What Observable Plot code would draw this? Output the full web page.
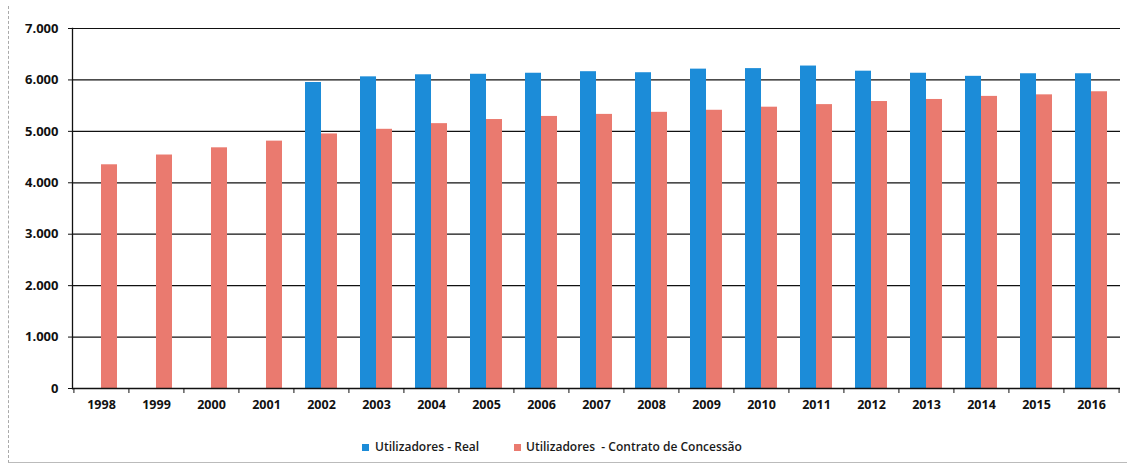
<!DOCTYPE html>
<html>
<head>
<meta charset="utf-8">
<script src="https://cdn.jsdelivr.net/npm/d3@7"></script>
<script src="https://cdn.jsdelivr.net/npm/@observablehq/plot@0.6"></script>
<style>
  html, body { margin: 0; padding: 0; background: #fff; }
  #wrap { position: relative; width: 1130px; height: 466px; overflow: hidden; font-family: "Open Sans", sans-serif; }
  #frame { position: absolute; left: 8px; top: 6px; width: 1118px; height: 456px; border-left: 1px dashed #aaa; border-bottom: 1px solid #bbb; pointer-events: none; }
  #chart { position: absolute; left: 0; top: 0; }
  .leg { position: absolute; top: 439px; font-size: 12px; font-weight: 600; color: #1a1a1a; white-space: pre; line-height: 16px; }
  .sw { position: absolute; top: 444px; width: 7px; height: 7px; }
</style>
</head>
<body>
<div id="wrap">
  <div id="frame"></div>
  <div id="chart"></div>
</div>
<script>
const years = ["1998","1999","2000","2001","2002","2003","2004","2005","2006","2007","2008","2009","2010","2011","2012","2013","2014","2015","2016"];
const realValues = [null,null,null,null,5950,6060,6100,6110,6130,6160,6140,6210,6220,6270,6170,6130,6070,6120,6120];
const contractValues = [4350,4540,4680,4810,4950,5040,5150,5230,5290,5330,5370,5410,5470,5520,5580,5620,5680,5710,5770];
const seriesNames = ["Utilizadores - Real", "Utilizadores  - Contrato de Concessão"];
const seriesColors = ["#1c8cd8", "#ea7a6f"];
const yTicks = [0,1000,2000,3000,4000,5000,6000,7000];

const realData = years.map((y, i) => ({year: y, value: realValues[i]})).filter(d => d.value != null);
const contractData = years.map((y, i) => ({year: y, value: contractValues[i]}));

const W = 1130, mL = 72, mR = 10;
const step = (W - mL - mR) / years.length;
const padIn = 0.42;
const bw = step * (1 - padIn);
const fmt = d => d3.format(",")(d).replace(/,/g, ".");

const chart = Plot.plot({
  width: W,
  height: 428,
  marginLeft: mL,
  marginRight: mR,
  marginTop: 28,
  marginBottom: 40,
  style: {fontFamily: "'Open Sans', sans-serif", fontSize: "13px", fontWeight: 700, color: "#111", background: "transparent"},
  x: {domain: years, paddingInner: padIn, paddingOuter: padIn / 2, label: null},
  y: {domain: [0, 7000], label: null},
  marks: [
    Plot.gridY(yTicks, {stroke: "#111", strokeOpacity: 1, strokeWidth: 1.2}),
    Plot.barY(realData, {x: "year", y: "value", fill: seriesColors[0], insetRight: bw / 2}),
    Plot.barY(contractData, {x: "year", y: "value", fill: seriesColors[1], insetLeft: bw / 2}),
    Plot.frame({anchor: "left", stroke: "#111", strokeWidth: 1.3}),
    Plot.ruleY([0], {stroke: "#111", strokeWidth: 1.3}),
    Plot.axisY(yTicks, {tickSize: 4, tickPadding: 10, tickFormat: fmt, stroke: "#111", fontSize: 13, label: null}),
    Plot.axisX({tickSize: 5, text: null, dx: -step / 2, stroke: "#111", label: null}),
    Plot.axisX([years[years.length - 1]], {tickSize: 5, text: null, dx: step / 2, stroke: "#111", label: null}),
    Plot.axisX({tickSize: 0, tickPadding: 12, fontSize: 12.5, label: null})
  ]
});
document.getElementById("chart").appendChild(chart);

// legend
const wrap = document.getElementById("wrap");
const legendPos = [{sw: 362, tx: 375}, {sw: 514, tx: 526}];
seriesNames.forEach((name, i) => {
  const s = document.createElement("div");
  s.className = "sw";
  s.style.left = legendPos[i].sw + "px";
  s.style.background = seriesColors[i];
  wrap.appendChild(s);
  const t = document.createElement("div");
  t.className = "leg";
  t.style.left = legendPos[i].tx + "px";
  t.textContent = name;
  wrap.appendChild(t);
});
</script>
</body>
</html>
